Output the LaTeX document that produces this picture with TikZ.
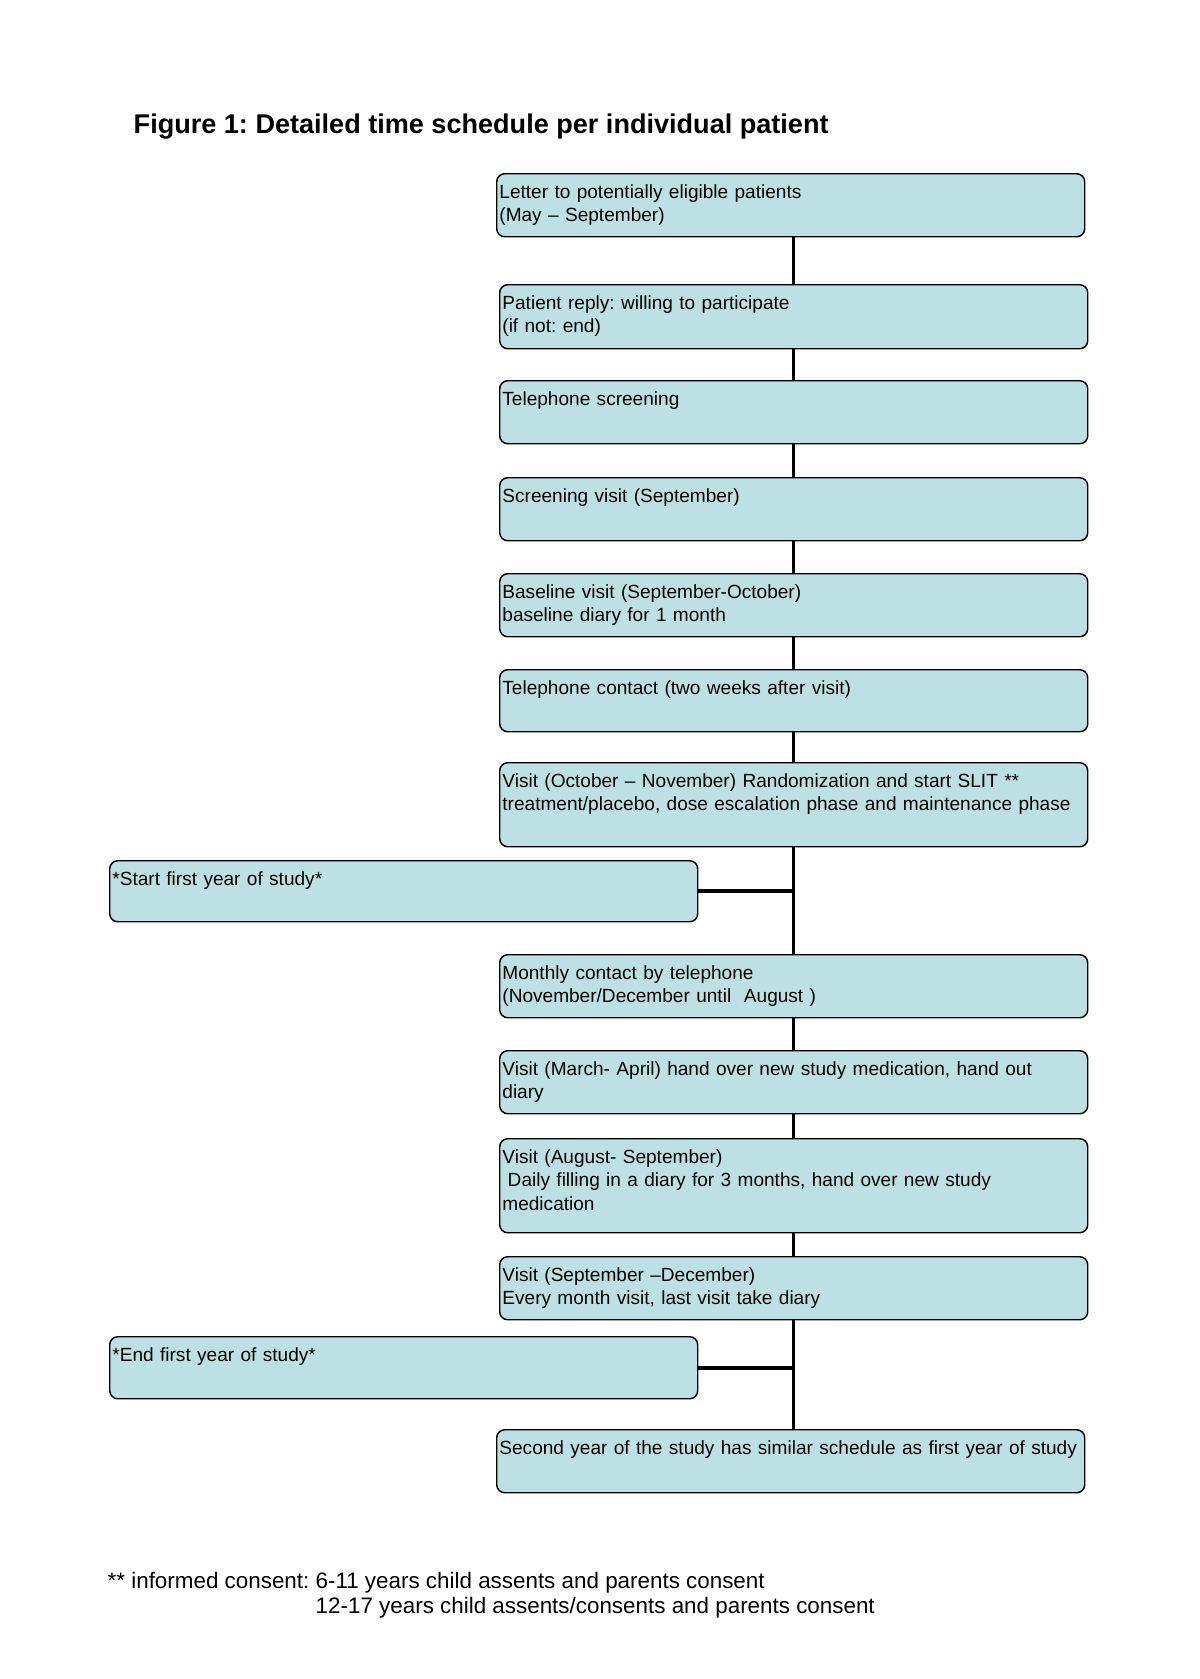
\documentclass[tikz,border=0pt]{standalone}
\usepackage{xcolor}
\usepackage{fontspec}
\setmainfont{Liberation Sans}
\usepackage{tikz}
\definecolor{boxfill}{RGB}{188,224,228}
\frenchspacing

\begin{document}
\begin{tikzpicture}[x=0.75pt,y=-0.75pt,
    phase/.style={draw, fill=boxfill, rounded corners=6pt, line width=1.1pt,
      anchor=north west, text width=437pt, align=left, inner xsep=2pt, inner ysep=4pt,
      font=\fontsize{14.3}{17.6}\selectfont, text height=14.5pt, text depth={#1*0.75pt-22.5pt}},
    spine/.style={line width=2.6pt},
    branch/.style={line width=3.2pt}]
  \useasboundingbox (0,0) rectangle (1200,1679);

  \node[anchor=base west, font=\fontsize{20.3}{24}\bfseries] (title) at (129,133)
    {Figure 1: Detailed time schedule per individual patient};

  \node[phase=63] (letter) at (496,173) {Letter to potentially eligible patients\\(May -- September)};
  \node[phase=64] (reply) at (499,284) {Patient reply: willing to participate\\(if not: end)};
  \node[phase=63] (phone) at (499,380) {Telephone screening};
  \node[phase=63] (screen) at (499,477) {Screening visit (September)};
  \node[phase=63] (base) at (499,573) {Baseline visit (September-October)\\baseline diary for 1 month};
  \node[phase=62] (contact) at (499,669) {Telephone contact (two weeks after visit)};
  \node[phase=84] (random) at (499,762) {Visit (October -- November) Randomization and start SLIT **\\treatment/placebo, dose escalation phase and maintenance phase};
  \node[phase=61] (start) at (109,860) {*Start first year of study*};
  \node[phase=63] (monthly) at (499,954) {Monthly contact by telephone\\(November/December until\ \ August )};
  \node[phase=63] (march) at (499,1050) {Visit (March- April) hand over new study medication, hand out\\diary};
  \node[phase=94] (august) at (499,1138) {Visit (August- September)\\\hspace*{.28em}Daily filling in a diary for 3 months, hand over new study\\medication};
  \node[phase=63] (sept) at (499,1256) {Visit (September --December)\\Every month visit, last visit take diary};
  \node[phase=62] (end) at (109,1336) {*End first year of study*};
  \node[phase=63] (second) at (496,1429) {Second year of the study has similar schedule as first year of study};

  \draw[spine] (letter.south -| reply.north) -- (reply);
  \draw[spine] (reply) -- (phone);
  \draw[spine] (phone) -- (screen);
  \draw[spine] (screen) -- (base);
  \draw[spine] (base) -- (contact);
  \draw[spine] (contact) -- (random);
  \draw[spine] (random) -- (monthly);
  \draw[spine] (monthly) -- (march);
  \draw[spine] (march) -- (august);
  \draw[spine] (august) -- (sept);
  \draw[spine] (sept) -- (sept.south |- second.north);
  \draw[branch] (start.east) -- (start.east -| random.south);
  \draw[branch] (end.east) -- (end.east -| sept.south);

  \node[anchor=base west, font=\fontsize{16.8}{20}\selectfont] (note) at (103,1588)
    {** informed consent: 6-11 years child assents and parents consent};
  \node[anchor=base west, font=\fontsize{16.8}{20}\selectfont] (notetwo) at (311,1613)
    {12-17 years child assents/consents and parents consent};
\end{tikzpicture}
\end{document}
